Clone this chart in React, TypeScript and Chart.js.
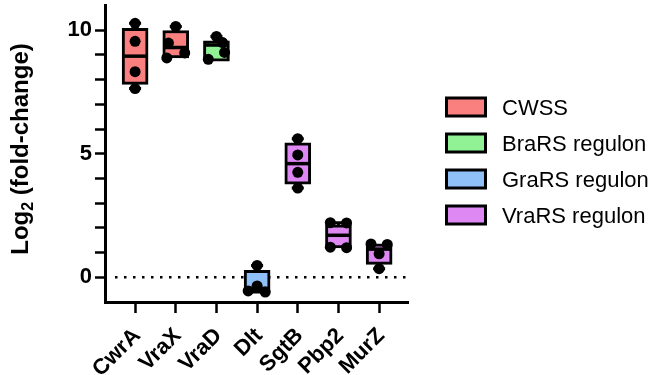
import React, { useEffect, useRef } from 'react';
import { Chart, registerables } from 'chart.js';

Chart.register(...registerables);

// ---------- data ----------
const CATEGORIES = ['CwrA', 'VraX', 'VraD', 'Dlt', 'SgtB', 'Pbp2', 'MurZ'];
const GROUP = ['CWSS', 'CWSS', 'BraRS regulon', 'GraRS regulon', 'VraRS regulon', 'VraRS regulon', 'VraRS regulon'];
const Q1 = [7.81, 8.88, 8.75, -0.59, 3.77, 1.19, 0.52];
const Q3 = [10.08, 9.99, 9.57, 0.28, 5.44, 2.12, 1.35];
const MEDIAN = [8.95, 9.3, 9.4, -0.45, 4.6, 1.7, 1.14];
const MIN = [7.64, 8.88, 8.82, -0.6, 3.61, 1.2, 0.35];
const MAX = [10.28, 10.15, 9.75, 0.48, 5.61, 2.21, 1.35];
const POINTS_Y = [
  [10.28, 9.55, 8.32, 7.64],
  [10.15, 9.48, 9.08, 8.88],
  [9.75, 9.5, 9.1, 8.82],
  [0.48, -0.35, -0.55, -0.6],
  [5.61, 4.95, 4.25, 3.61],
  [2.21, 2.2, 1.22, 1.2],
  [1.35, 1.33, 0.95, 0.35],
];
const JITTER = [
  [0, 0, 0, 0],
  [0, -0.18, 0.22, -0.22],
  [0, 0.15, 0.2, -0.2],
  [0, 0, -0.22, 0.2],
  [0, 0, 0, 0],
  [-0.2, 0.2, -0.2, 0.2],
  [-0.2, 0.2, 0, 0],
];
const LEGEND_LABELS = ['CWSS', 'BraRS regulon', 'GraRS regulon', 'VraRS regulon'];
const LEGEND_COLORS = ['#FA8080', '#90F294', '#90C0F8', '#DE88F4'];
const Y_TICKS = [0, 1, 2, 3, 4, 5, 6, 7, 8, 9, 10];
const Y_LABELED = [0, 5, 10];

const FONT = "'Liberation Sans', Arial, Helvetica, sans-serif";

export default function App() {
  const ref = useRef<HTMLCanvasElement>(null);

  useEffect(() => {
    const canvas = ref.current;
    if (!canvas) return;

    const colorOf = (i: number) => LEGEND_COLORS[LEGEND_LABELS.indexOf(GROUP[i])];
    const boxData = CATEGORIES.map((_, i) => ({ x: i, y: [Q1[i], Q3[i]] }));
    const pointData: { x: number; y: number }[] = [];
    POINTS_Y.forEach((arr, i) =>
      arr.forEach((v, j) => pointData.push({ x: i + JITTER[i][j], y: v }))
    );

    const extras = {
      id: 'boxExtras',
      beforeDatasetsDraw(chart: any) {
        const { ctx, chartArea, scales } = chart;
        const y0 = scales.y.getPixelForValue(0);
        ctx.save();
        ctx.setLineDash([2.5, 6.5]);
        ctx.lineWidth = 2.5;
        ctx.strokeStyle = '#000';
        ctx.beginPath();
        ctx.moveTo(chartArea.left + 10, y0);
        ctx.lineTo(chartArea.right - 2, y0);
        ctx.stroke();
        ctx.restore();
      },
      afterDatasetDraw(chart: any, args: any) {
        if (args.index !== 1) return;
        const { ctx, scales } = chart;
        const xs = scales.x;
        const ys = scales.y;
        ctx.save();
        ctx.strokeStyle = '#000';
        ctx.lineCap = 'butt';
        CATEGORIES.forEach((_, i) => {
          const cx = xs.getPixelForValue(i);
          const yQ1 = ys.getPixelForValue(Q1[i]);
          const yQ3 = ys.getPixelForValue(Q3[i]);
          const yMin = ys.getPixelForValue(MIN[i]);
          const yMax = ys.getPixelForValue(MAX[i]);
          const yMed = ys.getPixelForValue(MEDIAN[i]);
          ctx.lineWidth = 3;
          ctx.beginPath();
          if (yMax < yQ3) {
            ctx.moveTo(cx, yQ3);
            ctx.lineTo(cx, yMax);
            ctx.moveTo(cx - 6, yMax);
            ctx.lineTo(cx + 6, yMax);
          }
          if (yMin > yQ1) {
            ctx.moveTo(cx, yQ1);
            ctx.lineTo(cx, yMin);
            ctx.moveTo(cx - 6, yMin);
            ctx.lineTo(cx + 6, yMin);
          }
          ctx.stroke();
          ctx.lineWidth = 3.5;
          ctx.beginPath();
          ctx.moveTo(cx - 12, yMed);
          ctx.lineTo(cx + 12, yMed);
          ctx.stroke();
        });
        ctx.restore();
      },
      afterDraw(chart: any) {
        const { ctx } = chart;
        ctx.save();
        // legend
        LEGEND_LABELS.forEach((lab, i) => {
          const yc = 107 + 36 * i;
          ctx.fillStyle = LEGEND_COLORS[i];
          ctx.fillRect(446.5, yc - 9, 39, 18);
          ctx.lineWidth = 3;
          ctx.strokeStyle = '#000';
          ctx.strokeRect(446.5, yc - 9, 39, 18);
          ctx.fillStyle = '#000';
          ctx.font = `22px ${FONT}`;
          ctx.textAlign = 'left';
          ctx.textBaseline = 'alphabetic';
          ctx.fillText(lab, 502, yc + 8);
        });
        // y-axis title with subscript
        const big = `bold 24px ${FONT}`;
        const small = `bold 16px ${FONT}`;
        ctx.font = big;
        const w1 = ctx.measureText('Log').width;
        const w3 = ctx.measureText(' (fold-change)').width;
        ctx.font = small;
        const w2 = ctx.measureText('2').width;
        const total = w1 + w2 + w3;
        ctx.translate(28, 149);
        ctx.rotate(-Math.PI / 2);
        ctx.fillStyle = '#000';
        ctx.textAlign = 'left';
        ctx.textBaseline = 'alphabetic';
        let x = -total / 2;
        ctx.font = big;
        ctx.fillText('Log', x, 0);
        x += w1;
        ctx.font = small;
        ctx.fillText('2', x, 5);
        x += w2;
        ctx.font = big;
        ctx.fillText(' (fold-change)', x, 0);
        ctx.restore();
      },
    };

    const chart = new Chart(canvas, {
      type: 'bar',
      data: {
        datasets: [
          {
            type: 'scatter',
            data: pointData,
            backgroundColor: '#000',
            borderColor: '#000',
            borderWidth: 0,
            pointRadius: 5.5,
            order: 1,
          } as any,
          {
            type: 'bar',
            data: boxData as any,
            backgroundColor: CATEGORIES.map((_, i) => colorOf(i)),
            borderColor: '#000',
            borderWidth: 3,
            borderSkipped: false,
            barThickness: 26,
            grouped: false,
            order: 2,
          } as any,
        ],
      },
      options: {
        responsive: false,
        animation: false,
        events: [],
        layout: { padding: { top: 2, right: 244, left: 0, bottom: 0 } },
        plugins: { legend: { display: false }, tooltip: { enabled: false } },
        scales: {
          x: {
            type: 'linear',
            offset: false,
            min: -0.74,
            max: 6.71,
            afterBuildTicks: (axis: any) => {
              axis.ticks = CATEGORIES.map((_, i) => ({ value: i }));
            },
            afterFit: (axis: any) => {
              axis.height = 73;
              axis.paddingLeft = 0;
              axis.paddingRight = 0;
            },
            ticks: {
              autoSkip: false,
              minRotation: 45,
              maxRotation: 45,
              padding: 10,
              labelOffset: 2,
              color: '#000',
              font: { family: FONT, size: 22, weight: 'bold' },
              callback: (v: any) => CATEGORIES[Math.round(Number(v))] ?? '',
            },
            grid: {
              offset: false,
              drawOnChartArea: false,
              drawTicks: true,
              tickLength: 11,
              tickWidth: 2.5,
              color: '#000',
            },
            border: { display: true, color: '#000', width: 3 },
          },
          y: {
            type: 'linear',
            min: -1,
            max: 11,
            afterBuildTicks: (axis: any) => {
              axis.ticks = Y_TICKS.map((v) => ({ value: v }));
            },
            afterFit: (axis: any) => {
              axis.width = 105;
              axis.paddingTop = 0;
              axis.paddingBottom = 0;
            },
            ticks: {
              autoSkip: false,
              padding: 3,
              color: '#000',
              font: { family: FONT, size: 22, weight: 'bold' },
              callback: (v: any) => (Y_LABELED.includes(Number(v)) ? String(v) : ''),
            },
            grid: {
              drawOnChartArea: false,
              drawTicks: true,
              tickLength: 10,
              tickWidth: 2.5,
              color: '#000',
            },
            border: { display: true, color: '#000', width: 3 },
          },
        },
      } as any,
      plugins: [extras],
    });

    return () => chart.destroy();
  }, []);

  return (
    <div style={{ position: 'absolute', left: 0, top: 0, width: 652, height: 375, background: '#fff' }}>
      <canvas ref={ref} width={652} height={375} style={{ display: 'block' }} />
    </div>
  );
}
